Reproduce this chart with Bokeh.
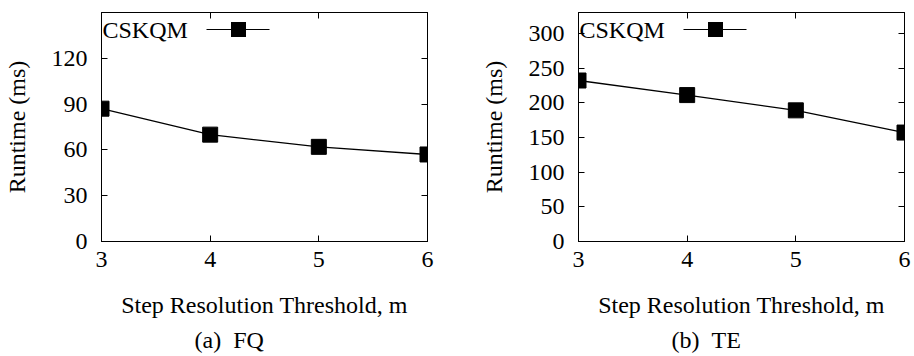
from bokeh.plotting import figure
from bokeh.layouts import row
from bokeh.models import (LinearAxis, FixedTicker, Title, Label, BoxAnnotation, Range1d)
from bokeh.embed import file_html
from bokeh.resources import INLINE

# ---- data ----
thresholds = [3, 4, 5, 6]
fq_runtime = [87, 70, 62, 57]
te_runtime = [232, 211, 189, 157]
fq_yticks = [0, 30, 60, 90, 120]
te_yticks = [0, 50, 100, 150, 200, 250, 300]
x_ticks = [3, 4, 5, 6]
series_name = "CSKQM"
x_label = "Step Resolution Threshold, m"
y_label = "Runtime (ms)"
captions = ["(a)\u00a0\u00a0FQ", "(b)\u00a0\u00a0TE"]

FONT = "Liberation Serif"
FS = "24px"


def make_panel(ys, yticks, ymax, caption, left_border, right_border):
    p = figure(width=457, height=356, x_range=Range1d(3, 6), y_range=Range1d(0, ymax),
               output_backend="svg", toolbar_location=None,
               min_border_left=left_border, min_border_right=right_border,
               min_border_top=12, min_border_bottom=114)
    p.grid.visible = False
    p.outline_line_color = "black"
    p.outline_line_width = 1
    p.background_fill_color = "white"
    p.border_fill_color = "white"

    for ax in p.xaxis + p.yaxis:
        ax.major_tick_in = 6
        ax.major_tick_out = 0
        ax.minor_tick_in = 0
        ax.minor_tick_out = 0
        ax.axis_line_color = "black"
        ax.major_tick_line_color = "black"
        ax.major_label_text_font = FONT
        ax.major_label_text_font_size = FS
        ax.major_label_text_color = "black"
        ax.axis_label_text_font = FONT
        ax.axis_label_text_font_size = FS
        ax.axis_label_text_font_style = "normal"
        ax.axis_label_text_color = "black"

    p.xaxis.ticker = FixedTicker(ticks=x_ticks)
    p.yaxis.ticker = FixedTicker(ticks=yticks)
    p.xaxis.axis_label = x_label
    p.yaxis.axis_label = y_label
    p.xaxis.major_label_standoff = 10
    p.xaxis.axis_label_standoff = 22
    p.yaxis.major_label_standoff = 14
    p.yaxis.axis_label_standoff = 19

    # mirrored ticks on top and right (no labels)
    top = LinearAxis(ticker=FixedTicker(ticks=x_ticks), major_tick_in=6, major_tick_out=0,
                     minor_tick_in=0, minor_tick_out=0,
                     major_label_overrides={t: "" for t in x_ticks},
                     major_label_standoff=0, axis_line_color="black")
    right = LinearAxis(ticker=FixedTicker(ticks=yticks), major_tick_in=6, major_tick_out=0,
                       minor_tick_in=0, minor_tick_out=0,
                       major_label_overrides={t: "" for t in yticks},
                       major_label_standoff=0, axis_line_color="black")
    p.add_layout(top, "above")
    p.add_layout(right, "right")

    p.line(thresholds, ys, line_color="black", line_width=1.3)
    p.scatter(thresholds, ys, marker="square", size=15, fill_color="black", line_color="black")

    # legend (gnuplot style: label left, sample right)
    p.add_layout(Label(x=1, y=212, x_units="screen", y_units="screen", text=series_name,
                       text_font=FONT, text_font_size=FS, text_color="black",
                       text_baseline="middle", text_align="left"))
    p.add_layout(BoxAnnotation(left=105, right=168, bottom=211.5, top=212.5,
                               left_units="screen", right_units="screen",
                               bottom_units="screen", top_units="screen",
                               fill_color="black", fill_alpha=1, line_color=None))
    p.add_layout(BoxAnnotation(left=129.5, right=144.5, bottom=204.5, top=219.5,
                               left_units="screen", right_units="screen",
                               bottom_units="screen", top_units="screen",
                               fill_color="black", fill_alpha=1, line_color=None))

    p.add_layout(Title(text=caption, align="left", offset=93, text_font=FONT,
                       text_font_size="24px", text_font_style="normal",
                       text_color="black", standoff=8), "below")
    return p


p1 = make_panel(fq_runtime, fq_yticks, 150, captions[0], 100, 30)
p2 = make_panel(te_runtime, te_yticks, 330, captions[1], 121, 10)

layout = row(p1, p2)
open("out.html", "w").write(file_html(layout, INLINE))
